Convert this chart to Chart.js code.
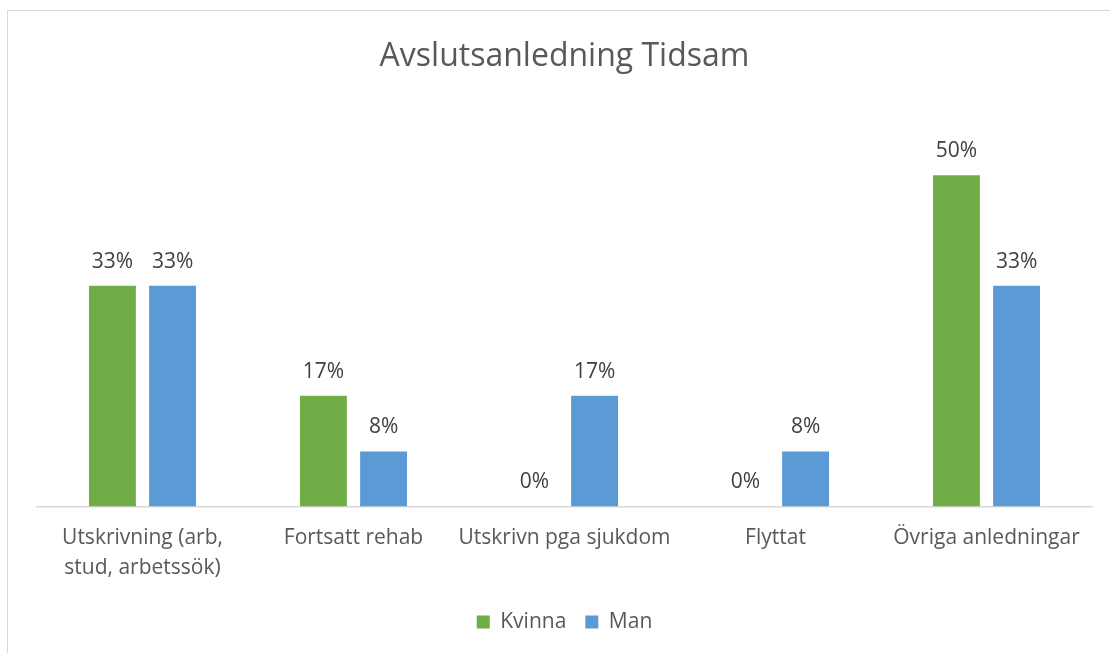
<!DOCTYPE html>
<html><head><meta charset="utf-8">
<script src="https://cdn.jsdelivr.net/npm/chart.js@4.4.0/dist/chart.umd.min.js"></script>
<style>
html,body{margin:0;padding:0;background:#fff;}
#wrap{position:relative;width:1110px;height:653px;overflow:hidden;}
#frame{position:absolute;left:7px;top:10px;width:1200px;height:700px;border:1.5px solid #D9D9D9;box-sizing:border-box;}
canvas{position:absolute;left:0;top:0;}
</style></head>
<body><div id="wrap"><div id="frame"></div><canvas id="c" width="1110" height="653"></canvas></div>
<script>
const title = "Avslutsanledning Tidsam";
const categories = [["Utskrivning (arb,","stud, arbetssök)"],"Fortsatt rehab","Utskrivn pga sjukdom","Flyttat","Övriga anledningar"];
const kvinna = [0.333, 0.167, 0, 0, 0.5];
const man = [0.333, 0.083, 0.167, 0.083, 0.333];
const seriesNames = ["Kvinna","Man"];
const colors = ["#70AD47","#5B9BD5"];
const FONT = "Open Sans";

const labelPlugin = {
  id:'barLabels',
  afterDatasetsDraw(chart){
    const ctx = chart.ctx;
    ctx.save();
    ctx.font = "21px '" + FONT + "'";
    ctx.fillStyle = "#404040";
    ctx.textAlign = "center";
    ctx.textBaseline = "middle";
    chart.data.datasets.forEach((ds,i)=>{
      const meta = chart.getDatasetMeta(i);
      meta.data.forEach((el,j)=>{
        const v = ds.data[j];
        ctx.fillText(Math.round(v*100)+"%", el.x, el.y - 24);
      });
    });
    ctx.restore();
  }
};

new Chart(document.getElementById('c'),{
  type:'bar',
  data:{labels:categories,datasets:[
    {label:seriesNames[0],data:kvinna,backgroundColor:colors[0],categoryPercentage:0.57,barPercentage:0.78},
    {label:seriesNames[1],data:man,backgroundColor:colors[1],categoryPercentage:0.57,barPercentage:0.78}
  ]},
  options:{
    responsive:false,animation:false,
    layout:{padding:{left:37,right:18,top:10,bottom:10.5}},
    plugins:{
      title:{display:true,text:title,color:"#595959",font:{family:FONT,size:32,weight:'normal'},padding:{top:28,bottom:32.6}},
      legend:{position:'bottom',labels:{color:"#595959",font:{family:FONT,size:21},boxWidth:13,boxHeight:13,padding:19}},
      tooltip:{enabled:false}
    },
    scales:{
      x:{grid:{display:false},border:{display:true,color:"#D9D9D9",width:1.5},
         ticks:{color:"#595959",font:{family:FONT,size:21,lineHeight:1.43},padding:9,maxRotation:0,autoSkip:false}},
      y:{display:false,min:0,max:0.6}
    }
  },
  plugins:[labelPlugin]
});
</script></body></html>
